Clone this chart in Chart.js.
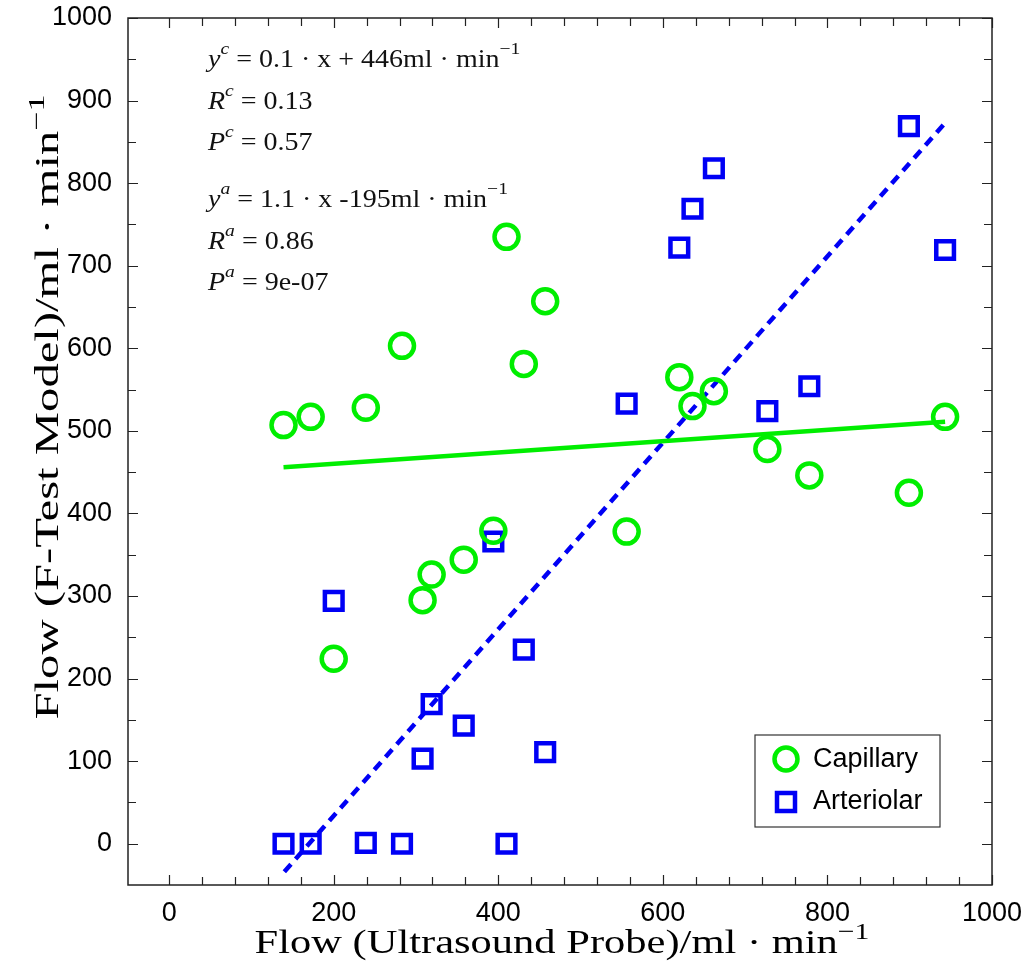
<!DOCTYPE html>
<html>
<head>
<meta charset="utf-8">
<script src="https://cdn.jsdelivr.net/npm/chart.js@4.4.0/dist/chart.umd.min.js"></script>
<style>
  html, body { margin: 0; padding: 0; background: #fff; }
</style>
</head>
<body>
<canvas id="chart" width="1024" height="964"></canvas>
<script>
const probeFlow      = [139, 172, 239, 283, 410, 457, 431, 394, 358, 319, 308, 200, 556, 620, 636, 662, 727, 778, 899, 943];
const capillaryFlow  = [507, 517, 528, 603, 735, 657, 581, 379, 344, 326, 295, 224, 378, 565, 530, 548, 478, 446, 425, 517];
const arteriolarFlow = [0,   0,   1,   0,   0,   111, 235, 366, 143, 169, 103, 294, 533, 722, 769, 818, 524, 554, 869, 719];

// fit line end points
const capFitX = [139, 943];
const capFitY = [456, 511];
const artFitX = [140, 943];
const artFitY = [-34, 873];

const xTicks = [0, 200, 400, 600, 800, 1000];
const yTicks = [0, 100, 200, 300, 400, 500, 600, 700, 800, 900, 1000];
const seriesNames = ['Capillary', 'Arteriolar'];

const xTitle = 'Flow (Ultrasound Probe)/ml · min';
const yTitle = 'Flow (F-Test Model)/ml · min';

// stats block: [symbol, superscript, rest, trailing superscript]
const statLines = [
  ['y', 'c', ' = 0.1 · x + 446ml · min', '−1'],
  ['R', 'c', ' = 0.13', ''],
  ['P', 'c', ' = 0.57', ''],
  ['y', 'a', ' = 1.1 · x -195ml · min', '−1'],
  ['R', 'a', ' = 0.86', ''],
  ['P', 'a', ' = 9e-07', '']
];
const statRowsY = [60, 102, 143, 200, 242, 283];

const green = 'rgb(0,238,0)';
const blue = 'rgb(0,0,245)';
const serif = '"Liberation Serif", "DejaVu Serif", serif';
const sans = '"Liberation Sans", Arial, sans-serif';

function points(xs, ys) {
  return xs.map((x, i) => ({x: x, y: ys[i]}));
}

// draws a run of text pieces, superscripts raised and smaller
function drawRuns(ctx, x, y, runs, size) {
  let cx = x;
  runs.forEach(r => {
    if (!r.t) return;
    const s = r.sup ? size * 0.7 : size;
    ctx.font = (r.it ? 'italic ' : '') + s + 'px ' + serif;
    ctx.fillText(r.t, cx, r.sup ? y - size * 0.42 : y);
    cx += ctx.measureText(r.t).width;
  });
  return cx - x;
}

function runsWidth(ctx, runs, size) {
  let w = 0;
  runs.forEach(r => {
    const s = r.sup ? size * 0.7 : size;
    ctx.font = (r.it ? 'italic ' : '') + s + 'px ' + serif;
    w += ctx.measureText(r.t).width;
  });
  return w;
}

// text stretched to a target width (computer modern is wider than times)
function drawStretched(ctx, cx, cy, runs, size, width, rot) {
  const w = runsWidth(ctx, runs, size);
  ctx.save();
  ctx.translate(cx, cy);
  if (rot) ctx.rotate(rot);
  ctx.scale(width / w, 1);
  drawRuns(ctx, -w / 2, 0, runs, size);
  ctx.restore();
}

const decorations = {
  id: 'decorations',
  afterDraw(chart) {
    const ctx = chart.ctx;
    const a = chart.chartArea;
    const xs = chart.scales.x, ys = chart.scales.y;
    ctx.save();

    // frame
    ctx.strokeStyle = '#222';
    ctx.lineWidth = 1.5;
    ctx.strokeRect(a.left, a.top, a.right - a.left, a.bottom - a.top);

    // inward ticks on all four sides
    ctx.lineWidth = 1.2;
    ctx.beginPath();
    for (let v = 0; v <= 1000; v += 40) {
      const px = Math.round(xs.getPixelForValue(v)) + 0.5;
      const len = v % 200 === 0 ? 10 : 8;
      ctx.moveTo(px, a.bottom); ctx.lineTo(px, a.bottom - len);
      ctx.moveTo(px, a.top); ctx.lineTo(px, a.top + len);
    }
    for (let v = 0; v <= 1000; v += 50) {
      const py = Math.round(ys.getPixelForValue(v)) + 0.5;
      const len = v % 100 === 0 ? 10 : 8;
      ctx.moveTo(a.left, py); ctx.lineTo(a.left + len, py);
      ctx.moveTo(a.right, py); ctx.lineTo(a.right - len, py);
    }
    ctx.stroke();

    // stats text
    ctx.fillStyle = '#111';
    ctx.textBaseline = 'middle';
    statLines.forEach((l, i) => {
      ctx.save();
      ctx.translate(208, statRowsY[i]);
      ctx.scale(1.12, 1);
      drawRuns(ctx, 0, 0, [
        {t: l[0], it: true},
        {t: l[1], it: true, sup: true},
        {t: l[2]},
        {t: l[3], sup: true}
      ], 25);
      ctx.restore();
    });

    // legend box
    const lx = 755, ly = 735, lw = 185, lh = 92;
    ctx.fillStyle = '#fff';
    ctx.fillRect(lx, ly, lw, lh);
    ctx.strokeStyle = '#333';
    ctx.lineWidth = 1.2;
    ctx.strokeRect(lx, ly, lw, lh);
    ctx.lineWidth = 4.5;
    ctx.strokeStyle = green;
    ctx.beginPath();
    ctx.arc(786, 759, 11.5, 0, Math.PI * 2);
    ctx.stroke();
    ctx.strokeStyle = blue;
    ctx.strokeRect(777, 793, 18, 18);
    ctx.fillStyle = '#000';
    ctx.font = '27px ' + sans;
    ctx.textBaseline = 'middle';
    ctx.textAlign = 'left';
    ctx.fillText(seriesNames[0], 813, 760);
    ctx.fillText(seriesNames[1], 813, 802);

    // axis titles
    ctx.textBaseline = 'alphabetic';
    drawStretched(ctx, 562, 953, [{t: xTitle}, {t: '−1', sup: true}], 34, 615);
    drawStretched(ctx, 58, 407, [{t: yTitle}, {t: '−1', sup: true}], 33, 625, -Math.PI / 2);

    ctx.restore();
  }
};

new Chart(document.getElementById('chart'), {
  type: 'scatter',
  data: {
    datasets: [
      {
        label: seriesNames[0],
        data: points(probeFlow, capillaryFlow),
        pointStyle: 'circle',
        pointRadius: 12,
        pointBorderWidth: 4.5,
        borderColor: green,
        backgroundColor: 'rgba(0,0,0,0)'
      },
      {
        label: seriesNames[1],
        data: points(probeFlow, arteriolarFlow),
        pointStyle: 'rect',
        pointRadius: 12.5,
        pointBorderWidth: 4.5,
        borderColor: blue,
        backgroundColor: 'rgba(0,0,0,0)'
      },
      {
        label: 'capillary fit',
        data: points(capFitX, capFitY),
        showLine: true,
        pointRadius: 0,
        borderWidth: 4.5,
        borderColor: green
      },
      {
        label: 'arteriolar fit',
        data: points(artFitX, artFitY),
        showLine: true,
        pointRadius: 0,
        borderWidth: 4.5,
        borderDash: [10, 7],
        borderColor: blue
      }
    ]
  },
  options: {
    responsive: false,
    devicePixelRatio: 1,
    animation: false,
    layout: { padding: { top: 18, right: 32, left: 0, bottom: 0 } },
    plugins: {
      legend: { display: false },
      tooltip: { enabled: false }
    },
    scales: {
      x: {
        type: 'linear',
        min: -50,
        max: 1000,
        afterBuildTicks: s => { s.ticks = xTicks.map(v => ({value: v})); },
        afterFit: s => { s.height = 79; s.paddingLeft = 0; s.paddingRight = 0; },
        grid: { display: false, drawTicks: false },
        border: { display: false },
        ticks: { color: '#000', font: { family: sans, size: 27 }, padding: 12, maxRotation: 0, callback: v => String(v) }
      },
      y: {
        type: 'linear',
        min: -50,
        max: 1000,
        afterBuildTicks: s => { s.ticks = yTicks.map(v => ({value: v})); },
        afterFit: s => { s.width = 128; s.paddingTop = 0; s.paddingBottom = 0; },
        grid: { display: false, drawTicks: false },
        border: { display: false },
        ticks: { color: '#000', font: { family: sans, size: 27 }, padding: 16, callback: v => String(v) }
      }
    }
  },
  plugins: [decorations]
});
</script>
</body>
</html>
